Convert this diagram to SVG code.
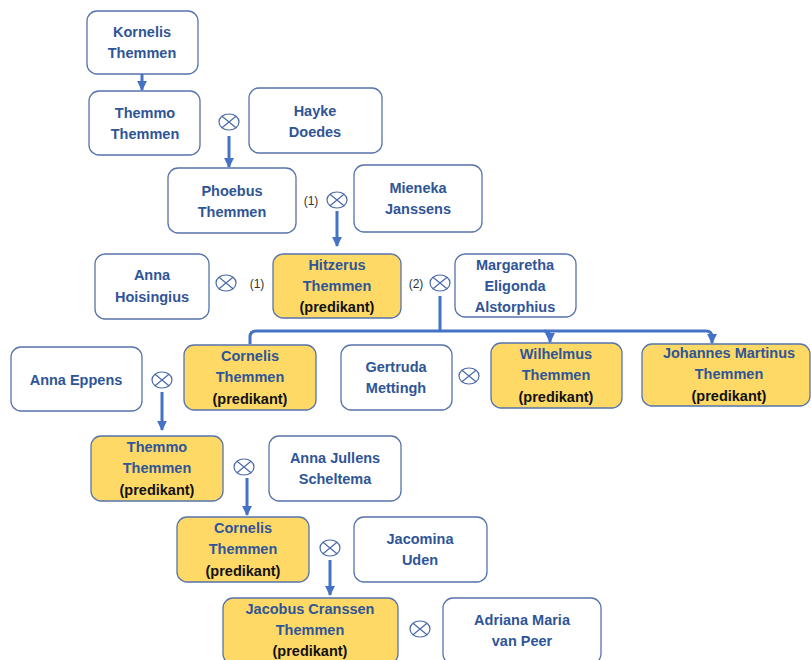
<svg xmlns="http://www.w3.org/2000/svg" width="811" height="660" viewBox="0 0 811 660">
<defs>
<style>
.b{fill:#fff;stroke:#5673ab;stroke-width:1.3}
.y{fill:#ffd966;stroke:#5673ab;stroke-width:1.3}
text{font-family:"Liberation Sans",Arial,sans-serif;font-weight:bold;font-size:14.5px;text-anchor:middle;fill:#2f5597}
.p{fill:#111}
.n{font-weight:normal;font-size:12px;fill:#333}
.c{fill:none;stroke:#4472c4;stroke-width:3}
.m{fill:#fff;stroke:#4a6aa8;stroke-width:1.2}
</style>
<marker id="a" viewBox="0 0 10 10" refX="9" refY="5" markerWidth="3.3" markerHeight="3.3" orient="auto"><path d="M0,0L10,5L0,10z" fill="#4472c4"/></marker>
<g id="x"><ellipse cx="0" cy="0" rx="10" ry="8" class="m"/><path d="M-7,-5.7L7,5.7M-7,5.7L7,-5.7" stroke="#4a6aa8" stroke-width="1.2"/></g>
</defs>
<g id="connectors">
<path class="c" d="M142,74V90" marker-end="url(#a)"/>
<path class="c" d="M229,136V167" marker-end="url(#a)"/>
<path class="c" d="M337,211V246" marker-end="url(#a)"/>
<path class="c" d="M440,296V330"/>
<path class="c" d="M250,344V337Q250,331 256,331H544Q550,331 550,337V342" marker-end="url(#a)"/>
<path class="c" d="M544,331H706Q712,331 712,337V343" marker-end="url(#a)"/>
<path class="c" d="M162,392V430" marker-end="url(#a)"/>
<path class="c" d="M247,478V515" marker-end="url(#a)"/>
<path class="c" d="M330,560V595" marker-end="url(#a)"/>
<use href="#x" x="229" y="122"/>
<use href="#x" x="337" y="200"/>
<use href="#x" x="226" y="283"/>
<use href="#x" x="440" y="283"/>
<use href="#x" x="162" y="380"/>
<use href="#x" x="469" y="376"/>
<use href="#x" x="244" y="467"/>
<use href="#x" x="330" y="548"/>
<use href="#x" x="420" y="629"/>
<text class="n" x="311" y="205">(1)</text>
<text class="n" x="257" y="288">(1)</text>
<text class="n" x="416" y="288">(2)</text>
</g>
<g id="kornelis"><rect class="b" x="87" y="11" width="111" height="63" rx="10"/><text x="142" y="37">Kornelis</text><text x="142" y="58">Themmen</text></g>
<g id="themmo1"><rect class="b" x="89" y="91" width="111" height="64" rx="10"/><text x="145" y="118">Themmo</text><text x="145" y="139">Themmen</text></g>
<g id="hayke"><rect class="b" x="249" y="88" width="133" height="65" rx="10"/><text x="315" y="116">Hayke</text><text x="315" y="137">Doedes</text></g>
<g id="phoebus"><rect class="b" x="168" y="168" width="128" height="65" rx="10"/><text x="232" y="196">Phoebus</text><text x="232" y="217">Themmen</text></g>
<g id="mieneka"><rect class="b" x="354" y="165" width="128" height="67" rx="10"/><text x="418" y="193">Mieneka</text><text x="418" y="214">Janssens</text></g>
<g id="anna-h"><rect class="b" x="95" y="254" width="114" height="65" rx="10"/><text x="152" y="280">Anna</text><text x="152" y="302">Hoisingius</text></g>
<g id="hitzerus"><rect class="y" x="273" y="254" width="128" height="64" rx="10"/><text x="337" y="270">Hitzerus</text><text x="337" y="291">Themmen</text><text class="p" x="337" y="312">(predikant)</text></g>
<g id="margaretha"><rect class="b" x="455" y="254" width="121" height="63" rx="10"/><text x="515" y="270">Margaretha</text><text x="515" y="291">Eligonda</text><text x="515" y="312">Alstorphius</text></g>
<g id="anna-e"><rect class="b" x="11" y="347" width="131" height="64" rx="10"/><text x="76" y="385">Anna Eppens</text></g>
<g id="cornelis1"><rect class="y" x="184" y="345" width="132" height="65" rx="10"/><text x="250" y="361">Cornelis</text><text x="250" y="382">Themmen</text><text class="p" x="250" y="404">(predikant)</text></g>
<g id="gertruda"><rect class="b" x="341" y="345" width="111" height="65" rx="10"/><text x="396" y="372">Gertruda</text><text x="396" y="393">Mettingh</text></g>
<g id="wilhelmus"><rect class="y" x="491" y="343" width="131" height="65" rx="10"/><text x="556" y="359">Wilhelmus</text><text x="556" y="380">Themmen</text><text class="p" x="556" y="402">(predikant)</text></g>
<g id="johannes"><rect class="y" x="642" y="344" width="168" height="62" rx="10"/><text x="729" y="358">Johannes Martinus</text><text x="729" y="379">Themmen</text><text class="p" x="729" y="401">(predikant)</text></g>
<g id="themmo2"><rect class="y" x="91" y="436" width="132" height="65" rx="10"/><text x="157" y="452">Themmo</text><text x="157" y="473">Themmen</text><text class="p" x="157" y="495">(predikant)</text></g>
<g id="anna-j"><rect class="b" x="269" y="436" width="132" height="65" rx="10"/><text x="335" y="463">Anna Jullens</text><text x="335" y="484">Scheltema</text></g>
<g id="cornelis2"><rect class="y" x="177" y="517" width="132" height="65" rx="10"/><text x="243" y="533">Cornelis</text><text x="243" y="554">Themmen</text><text class="p" x="243" y="576">(predikant)</text></g>
<g id="jacomina"><rect class="b" x="354" y="517" width="133" height="65" rx="10"/><text x="420" y="544">Jacomina</text><text x="420" y="565">Uden</text></g>
<g id="jacobus"><rect class="y" x="223" y="598" width="175" height="66" rx="10"/><text x="310" y="614">Jacobus Cranssen</text><text x="310" y="635">Themmen</text><text class="p" x="310" y="656">(predikant)</text></g>
<g id="adriana"><rect class="b" x="443" y="598" width="158" height="66" rx="10"/><text x="522" y="625">Adriana Maria</text><text x="522" y="646">van Peer</text></g>
</svg>
